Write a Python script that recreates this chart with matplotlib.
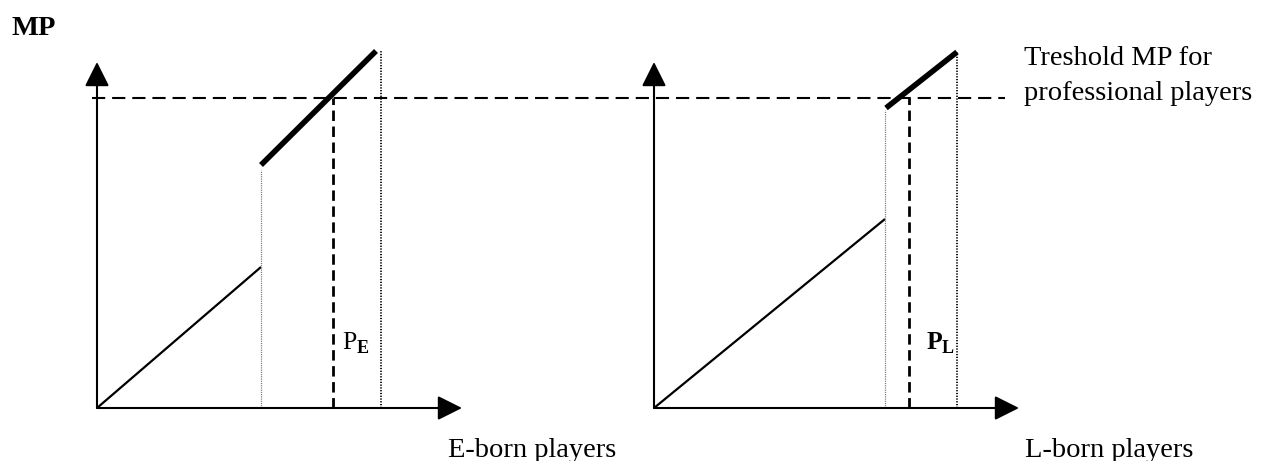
import matplotlib.pyplot as plt

plt.rcParams['font.family'] = ['Liberation Serif', 'DejaVu Serif']
plt.rcParams['mathtext.fontset'] = 'custom'
plt.rcParams['mathtext.rm'] = 'Liberation Serif'
plt.rcParams['mathtext.bf'] = 'Liberation Serif:bold'
plt.rcParams['lines.scale_dashes'] = False

# schematic coordinates (left panel origin = 0,0), second panel shifted right
panel_offset = [0, 557]
threshold = 310
threshold_span = [-5, 908]
axis_top = 346
axis_right = 365

# thin MP line below the jump
low_x = [[0, 164], [0, 231]]
low_y = [[0, 141], [0, 189]]
# thick MP line above the jump
high_x = [[164, 279], [232, 303]]
high_y = [[243, 357], [300, 356]]
# thin dotted jump lines
jump_x = [164, 231]
jump_top = [238, 298]
# dashed line where MP meets the threshold
cut_x = [236, 255]
# dotted right edge
edge_x = [284, 303]
edge_top = [358, 356]

sub_labels = [r'$\mathrm{P}_{\mathbf{E}}$', r'$\mathbf{P}_{\mathbf{L}}$']
sub_label_x = [245, 272]
x_labels = ['E-born players', 'L-born players']
x_label_x = [351, 371]

fig = plt.figure(figsize=(12.63, 4.61), dpi=100)
ax = fig.add_axes([0, 0, 1, 1])
ax.set_xlim(-97, 1166)
ax.set_ylim(-53, 408)
ax.axis('off')

# threshold
ax.plot(threshold_span, [threshold, threshold], color='k', lw=1.5, dashes=(9.5, 5))

for i in range(2):
    o = panel_offset[i]
    # axes with arrow heads
    ax.annotate('', xy=(o, axis_top), xytext=(o, 0),
                arrowprops=dict(arrowstyle='-|>,head_length=15,head_width=7.5',
                                mutation_scale=1, lw=1.5, color='k',
                                shrinkA=0, shrinkB=0))
    ax.annotate('', xy=(o + axis_right, 0), xytext=(o, 0),
                arrowprops=dict(arrowstyle='-|>,head_length=15,head_width=7.5',
                                mutation_scale=1, lw=1.5, color='k',
                                shrinkA=0, shrinkB=0))
    ax.plot([o + v for v in low_x[i]], low_y[i], color='k', lw=1.6,
            solid_capstyle='butt')
    ax.plot([o + v for v in high_x[i]], high_y[i], color='k', lw=4,
            solid_capstyle='butt')
    ax.plot([o + jump_x[i]] * 2, [0, jump_top[i]], color='0.45', lw=0.9,
            dashes=(0.8, 0.8))
    ax.plot([o + cut_x[i]] * 2, [0, threshold], color='k', lw=2, dashes=(7.5, 4))
    ax.plot([o + edge_x[i]] * 2, [0, edge_top[i]], color='k', lw=1.3,
            dashes=(0.9, 1.1))
    ax.text(o + sub_label_x[i], 58, sub_labels[i], fontsize=18.5,
            ha='left', va='baseline')
    ax.text(o + x_label_x[i], -49, x_labels[i], fontsize=20.5,
            ha='left', va='baseline')

ax.text(-85, 373, 'MP', fontsize=20.5, fontweight='bold', ha='left', va='baseline')
ax.text(927, 343, 'Treshold MP for', fontsize=20.5, ha='left', va='baseline')
ax.text(927, 308, 'professional players', fontsize=20.5, ha='left', va='baseline')

fig.savefig('out.png', dpi=100)
